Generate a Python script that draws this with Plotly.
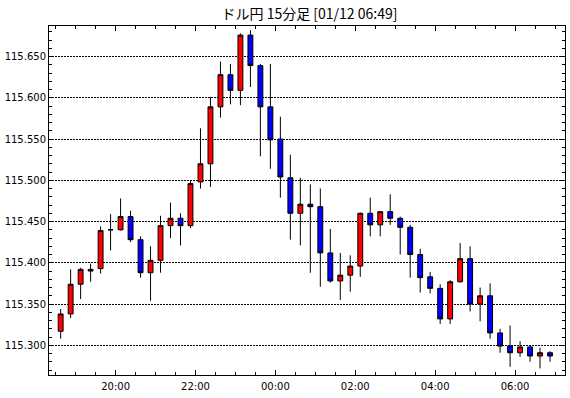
import plotly.graph_objects as go
import pandas as pd

# 15-minute candles, 2016-01-11 18:30 .. 2016-01-12 06:45 (candle start times)
start_times = pd.date_range("2016-01-11 18:30", periods=50, freq="15min")

opens = [115.317, 115.338, 115.374, 115.390, 115.393, 115.440, 115.440, 115.456, 115.428, 115.388,
         115.403, 115.445, 115.454, 115.445, 115.498, 115.520, 115.589, 115.628, 115.609, 115.676,
         115.639, 115.589, 115.550, 115.503, 115.460, 115.471, 115.468, 115.412, 115.378, 115.385,
         115.396, 115.460, 115.446, 115.462, 115.454, 115.443, 115.410, 115.383, 115.369, 115.332,
         115.377, 115.405, 115.350, 115.360, 115.315, 115.299, 115.291, 115.298, 115.287, 115.291]
highs = [115.344, 115.392, 115.394, 115.399, 115.444, 115.459, 115.478, 115.463, 115.432, 115.420,
         115.457, 115.473, 115.460, 115.500, 115.563, 115.601, 115.644, 115.641, 115.678, 115.682,
         115.641, 115.641, 115.577, 115.531, 115.503, 115.495, 115.490, 115.441, 115.412, 115.409,
         115.461, 115.479, 115.462, 115.483, 115.456, 115.446, 115.417, 115.389, 115.374, 115.379,
         115.424, 115.420, 115.370, 115.375, 115.320, 115.324, 115.305, 115.300, 115.297, 115.293]
lows = [115.308, 115.333, 115.356, 115.377, 115.387, 115.415, 115.439, 115.425, 115.382, 115.354,
        115.388, 115.430, 115.421, 115.442, 115.490, 115.492, 115.576, 115.592, 115.591, 115.613,
        115.529, 115.514, 115.479, 115.428, 115.421, 115.388, 115.371, 115.376, 115.355, 115.365,
        115.383, 115.432, 115.432, 115.446, 115.410, 115.382, 115.364, 115.363, 115.326, 115.326,
        115.376, 115.341, 115.329, 115.308, 115.291, 115.274, 115.286, 115.280, 115.272, 115.280]
closes = [115.338, 115.374, 115.392, 115.392, 115.439, 115.440, 115.456, 115.428, 115.388, 115.403,
          115.445, 115.454, 115.445, 115.496, 115.520, 115.589, 115.628, 115.609, 115.676, 115.639,
          115.589, 115.549, 115.504, 115.460, 115.471, 115.468, 115.412, 115.378, 115.385, 115.396,
          115.460, 115.446, 115.462, 115.454, 115.443, 115.410, 115.382, 115.369, 115.332, 115.377,
          115.405, 115.350, 115.360, 115.315, 115.299, 115.291, 115.298, 115.287, 115.291, 115.287]

title_text = "ドル円 15分足 [01/12 06:49]"

# candle drawn at the middle of its 15-minute period
x_centers = start_times + pd.Timedelta(minutes=7.5)

fig = go.Figure()
fig.add_trace(go.Candlestick(
    x=x_centers, open=opens, high=highs, low=lows, close=closes,
    increasing=dict(line=dict(color="black", width=1), fillcolor="#ff0000"),
    decreasing=dict(line=dict(color="black", width=1), fillcolor="#0000ff"),
    whiskerwidth=0,
    hoverinfo="x+y",
))

fig.update_layout(
    width=570, height=398,
    margin=dict(l=49, r=5, t=26, b=23, autoexpand=False),
    paper_bgcolor="white", plot_bgcolor="white",
    showlegend=False,
    boxgap=0.3,
    title=dict(text=title_text, x=0.543, xanchor="center", y=0.9635, yanchor="middle",
               font=dict(family="Noto Sans CJK JP", size=14, color="black")),
    font=dict(family="DejaVu Sans", size=10, color="black"),
)
fig.update_xaxes(
    type="date", automargin=False,
    range=["2016-01-11 18:20", "2016-01-12 07:15"],
    rangeslider=dict(visible=False),
    tick0="2016-01-11 20:00", dtick=2 * 3600 * 1000, tickformat="%H:%M",
    ticks="inside", ticklen=5, tickcolor="black", ticklabelstandoff=2,
    showgrid=False, showline=True, linecolor="black", linewidth=1, mirror="allticks",
    minor=dict(dtick=30 * 60 * 1000, tick0="2016-01-11 20:00", ticks="inside", ticklen=3,
               tickcolor="black", showgrid=False),
    fixedrange=True,
)
fig.update_yaxes(
    automargin=False,
    range=[115.264, 115.687],
    tick0=115.3, dtick=0.05, tickformat=".3f",
    ticks="inside", ticklen=5, tickcolor="black",
    showgrid=True, gridcolor="black", griddash="2px,1px", gridwidth=1,
    showline=True, linecolor="black", linewidth=1, mirror="allticks",
    minor=dict(dtick=0.01, ticks="inside", ticklen=3, tickcolor="black", showgrid=False),
    zeroline=False, fixedrange=True,
)

fig.write_html("out.html", config={"displayModeBar": False},
               post_script="document.body.style.margin='0';document.body.style.overflow='hidden';")
